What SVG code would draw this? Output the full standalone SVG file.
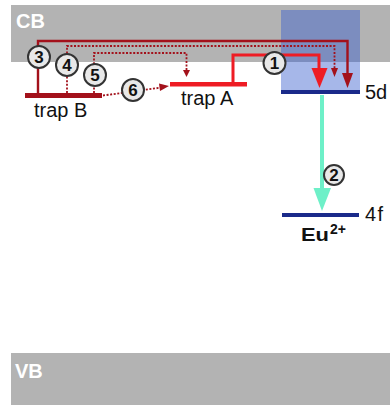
<svg xmlns="http://www.w3.org/2000/svg" width="390" height="405" viewBox="0 0 390 405">
<style>
.band{fill:#b3b3b3}
.bl{font-family:"Liberation Sans",Arial,sans-serif;font-weight:bold;font-size:20px;fill:#fff}
.lbl{font-family:"Liberation Sans",Arial,sans-serif;font-size:20px;fill:#111}
.num{font-family:"Liberation Sans",Arial,sans-serif;font-weight:bold;font-size:17px;fill:#111;text-anchor:middle}
.circ{fill:#e8e8e8;stroke:#333;stroke-width:2}
.dr{fill:none;stroke:#a3111b;stroke-width:2.4}
.dot{stroke-dasharray:2 1.6;stroke-width:1.8}
.dh{fill:#a3111b}
</style>
<g id="CB"><rect class="band" x="11" y="5" width="379" height="57"/><text class="bl" x="16" y="28">CB</text></g>
<g id="VB"><rect class="band" x="11" y="353" width="379" height="52"/><text class="bl" x="15" y="378">VB</text></g>
<g id="Eu">
<rect x="281" y="10" width="79" height="82" fill="#3a5fcf" fill-opacity="0.45"/>
<rect x="281" y="90" width="79" height="4" fill="#1a2a8a"/>
<text class="lbl" x="365" y="99" font-size="19">5d</text>
<rect x="282" y="213" width="77" height="4" fill="#1a2a8a"/>
<text class="lbl" x="365" y="221" font-size="17" letter-spacing="1.5">4f</text>
<text x="301" y="241" font-family="Liberation Sans,Arial,sans-serif" font-weight="bold" font-size="18" fill="#111"><tspan textLength="28" lengthAdjust="spacingAndGlyphs">Eu</tspan><tspan x="330" y="234" font-size="14">2+</tspan></text>
</g>
<g id="trapA"><rect x="170" y="82" width="77" height="4.5" fill="#ee1c24"/><text class="lbl" x="181" y="105">trap A</text></g>
<g id="trapB"><rect x="25" y="93" width="77" height="5" fill="#a3111b"/><text class="lbl" x="34" y="117">trap B</text></g>
<g id="connectors">
<path d="M233,82 V55 H319 V72" fill="none" stroke="#ee1c24" stroke-width="3"/>
<path d="M311.5,68 L327.5,68 L319.5,88 z" fill="#ee1c24"/>
<path class="dr" d="M38,93 V41 H347.5 V76"/>
<path class="dh" d="M342,73 L353,73 L347.5,88 z"/>
<path class="dr dot" d="M67,93 V46 H334.5 V70"/>
<path class="dh" d="M331,68 L338,68 L334.5,77 z"/>
<path class="dr dot" d="M94,93 V53 H186.5 V71"/>
<path class="dh" d="M183,70 L190,70 L186.5,77 z"/>
<path class="dr dot" d="M103,95.5 L162,87.5"/>
<path class="dh" d="M159,83.5 L169,86 L160,91 z"/>
<path d="M322,95 V192" stroke="#6ef0c8" stroke-width="4" fill="none"/>
<path d="M313.5,188 L331,188 L322,211 z" fill="#6ef0c8"/>
</g>
<g id="c1"><circle class="circ" cx="274.5" cy="63" r="11"/><text class="num" x="274.5" y="69">1</text></g>
<g id="c2"><circle class="circ" cx="334" cy="175" r="10"/><text class="num" x="334" y="181">2</text></g>
<g id="c3"><circle class="circ" cx="39" cy="57" r="11"/><text class="num" x="39" y="63">3</text></g>
<g id="c4"><circle class="circ" cx="67" cy="65" r="11"/><text class="num" x="67" y="71">4</text></g>
<g id="c5"><circle class="circ" cx="95" cy="75" r="11"/><text class="num" x="95" y="81">5</text></g>
<g id="c6"><circle class="circ" cx="133" cy="90" r="11"/><text class="num" x="133" y="96">6</text></g>
</svg>
